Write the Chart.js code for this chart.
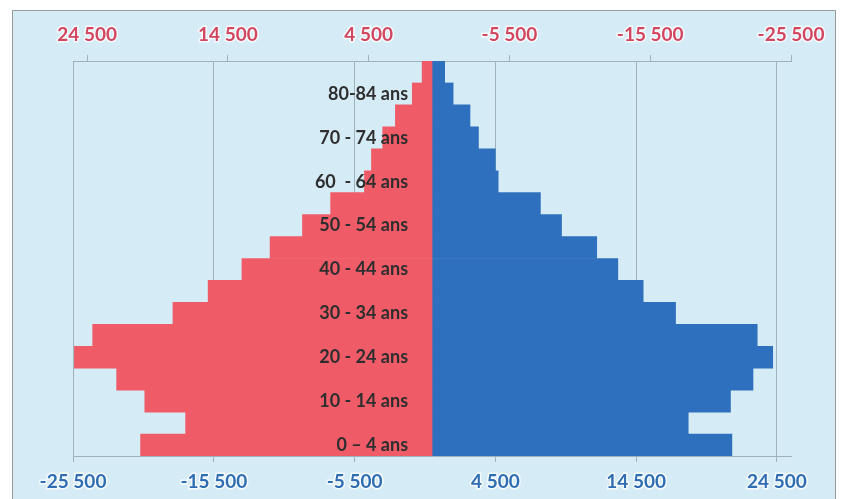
<!DOCTYPE html>
<html>
<head>
<meta charset="utf-8">
<script src="https://cdn.jsdelivr.net/npm/chart.js@4/dist/chart.umd.min.js"></script>
<style>
  html, body { margin: 0; padding: 0; background: #ffffff; }
  #wrap { width: 842px; height: 499px; }
</style>
</head>
<body>
<div id="wrap"><canvas id="pyramid" width="842" height="499"></canvas></div>
<script>
// Age groups, from youngest (bottom) to oldest (top)
const ageGroups = [
  "0 – 4 ans", "5 - 9 ans", "10 - 14 ans", "15 - 19 ans", "20 - 24 ans",
  "25 - 29 ans", "30 - 34 ans", "35 - 39 ans", "40 - 44 ans", "45 - 49 ans",
  "50 - 54 ans", "55 - 59 ans", "60  - 64 ans", "65 - 69 ans", "70 - 74 ans",
  "75 - 79 ans", "80-84 ans", "85 ans et +"
];

// Left half of the pyramid (negative values)
const leftSeries = [
  -20700, -17500, -20400, -22400, -25400,
  -24100, -18400, -15900, -13500, -11500,
  -9200, -7200, -4800, -4300, -3500,
  -2600, -1400, -700
];

// Right half of the pyramid
const rightSeries = [
  21300, 18200, 21200, 22800, 24200,
  23100, 17300, 15000, 13200, 11700,
  9200, 7700, 4700, 4500, 3300,
  2700, 1500, 900
];

// Tick values shared by the bottom axis and the reversed top axis
const tickValues = [-25500, -15500, -5500, 4500, 14500, 24500];
const axisMin = -25500;
const axisMax = 25500;
// Value on the x axis where the age labels end (just left of the centre line)
const ageLabelAnchor = -1700;

function formatNumber(v) {
  const s = Math.abs(v).toString().replace(/\B(?=(\d{3})+(?!\d))/g, ' ');
  return (v < 0 ? '-' : '') + s;
}

const tickFont = { family: 'Lato', weight: 'bold', size: 19 };
const ageFont = { family: 'Lato', weight: 'bold', size: 18 };
const gridColor = '#9fb1b9';

// Light blue panel with a thin grey frame behind the whole chart
const framePlugin = {
  id: 'frame',
  beforeDraw(chart) {
    const ctx = chart.ctx;
    ctx.save();
    ctx.fillStyle = '#ffffff';
    ctx.fillRect(0, 0, chart.width, chart.height);
    ctx.fillStyle = '#d5ebf5';
    ctx.fillRect(12, 10, 824, 495);
    ctx.strokeStyle = '#9a9a9a';
    ctx.lineWidth = 1;
    ctx.strokeRect(12.5, 10.5, 823, 495);
    ctx.restore();
  }
};

const fixedTicks = (scale) => { scale.ticks = tickValues.map(v => ({ value: v })); };

new Chart(document.getElementById('pyramid'), {
  type: 'bar',
  data: {
    labels: ageGroups,
    datasets: [
      {
        data: leftSeries,
        backgroundColor: '#ef5c68',
        borderWidth: 0,
        barPercentage: 1,
        categoryPercentage: 1,
        xAxisID: 'x'
      },
      {
        data: rightSeries,
        backgroundColor: '#2f70be',
        borderWidth: 0,
        barPercentage: 1,
        categoryPercentage: 1,
        xAxisID: 'x'
      }
    ]
  },
  options: {
    indexAxis: 'y',
    responsive: false,
    devicePixelRatio: 1,
    animation: false,
    layout: { padding: { left: 73, right: 51, top: 0, bottom: 0 } },
    plugins: {
      legend: { display: false },
      tooltip: { enabled: false }
    },
    scales: {
      x: {
        type: 'linear',
        position: 'bottom',
        min: axisMin,
        max: axisMax,
        stacked: true,
        afterBuildTicks: fixedTicks,
        afterFit: (s) => { s.height = 43; },
        grid: { color: gridColor, lineWidth: 1, drawTicks: true, tickLength: 6 },
        border: { display: true, color: gridColor },
        ticks: {
          autoSkip: false,
          maxRotation: 0,
          padding: 8,
          color: '#2f6db3',
          font: tickFont,
          textStrokeColor: 'rgba(255,255,255,0.75)',
          textStrokeWidth: 3,
          callback: (v) => formatNumber(v)
        }
      },
      x2: {
        type: 'linear',
        position: 'top',
        reverse: true,
        min: axisMin,
        max: axisMax,
        afterBuildTicks: fixedTicks,
        afterFit: (s) => { s.height = 61; },
        grid: { drawOnChartArea: false, color: gridColor, drawTicks: true, tickLength: 6 },
        border: { display: true, color: gridColor },
        ticks: {
          autoSkip: false,
          maxRotation: 0,
          padding: 9,
          color: '#d2475f',
          font: tickFont,
          textStrokeColor: 'rgba(255,255,255,0.75)',
          textStrokeWidth: 3,
          callback: (v) => formatNumber(v)
        }
      },
      y: {
        type: 'category',
        position: { x: ageLabelAnchor },
        reverse: true,
        stacked: true,
        grid: { display: false, drawTicks: false },
        border: { display: false },
        ticks: {
          z: 1,
          autoSkip: false,
          padding: 0,
          color: '#2e2e2e',
          font: ageFont,
          callback: (v, i) => (i % 2 === 0 ? ageGroups[i] : '')
        }
      }
    }
  },
  plugins: [framePlugin]
});
</script>
</body>
</html>
